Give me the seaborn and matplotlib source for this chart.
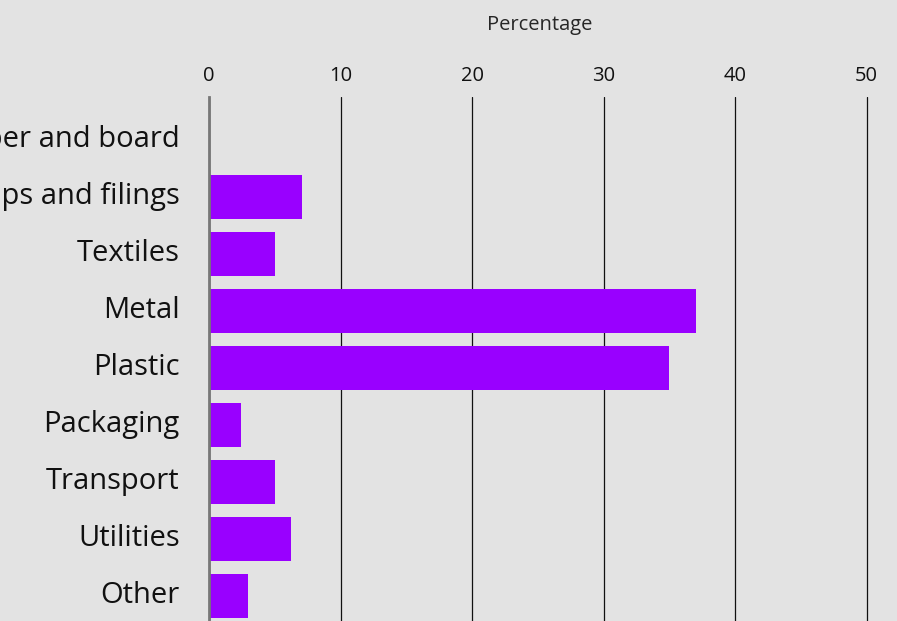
import matplotlib
matplotlib.use('Agg')
import matplotlib.pyplot as plt
import seaborn as sns
import pandas as pd

# Data
categories = ['Paper and board', 'Chips and filings', 'Textiles', 'Metal', 'Plastic',
              'Packaging', 'Transport', 'Utilities', 'Other']
percentages = [0, 7.1, 5.0, 37.0, 35.0, 2.4, 5.0, 6.2, 3.0]
ticks = [0, 10, 20, 30, 40, 50]

df = pd.DataFrame({'Category': categories, 'Percentage': percentages})

sns.set_theme(style='white')
plt.rcParams['font.family'] = ['Open Sans', 'DejaVu Sans']

bg = '#e3e3e3'
fig = plt.figure(figsize=(8.97, 6.21), dpi=100, facecolor=bg)
# axes deliberately run off the figure edges like the reference crop
ax = fig.add_axes([209 / 897, 0.0, (897 - 209) / 897, (621 - 97) / 621])
ax.set_facecolor(bg)

sns.barplot(data=df, x='Percentage', y='Category', color='#9900ff', saturation=1,
            width=0.77, linewidth=0, ax=ax, zorder=3)

ax.set_xlim(0, (897 - 209) / 13.15)
ax.set_ylim((621 - 140) / 57, -0.75)
ax.set_xticks(ticks)
ax.xaxis.tick_top()
ax.xaxis.set_label_position('top')
ax.set_xlabel('Percentage', fontsize=14.5, labelpad=26, x=(540 - 209) / (897 - 209))
ax.set_ylabel('')
ax.tick_params(axis='x', length=0, pad=8, labelsize=14.5, colors='#111111')
ax.tick_params(axis='y', length=0, pad=21, labelsize=21, colors='#111111')
for t in ax.get_yticklabels():
    t.set_va('center')

ax.grid(axis='x', color='#111111', linewidth=0.9, zorder=0)
ax.grid(axis='y', visible=False)
for s in ['top', 'right', 'bottom']:
    ax.spines[s].set_visible(False)
ax.spines['left'].set_color('#777777')
ax.spines['left'].set_linewidth(2)
ax.spines['left'].set_zorder(4)

fig.savefig('out.png', dpi=100, facecolor=bg)
